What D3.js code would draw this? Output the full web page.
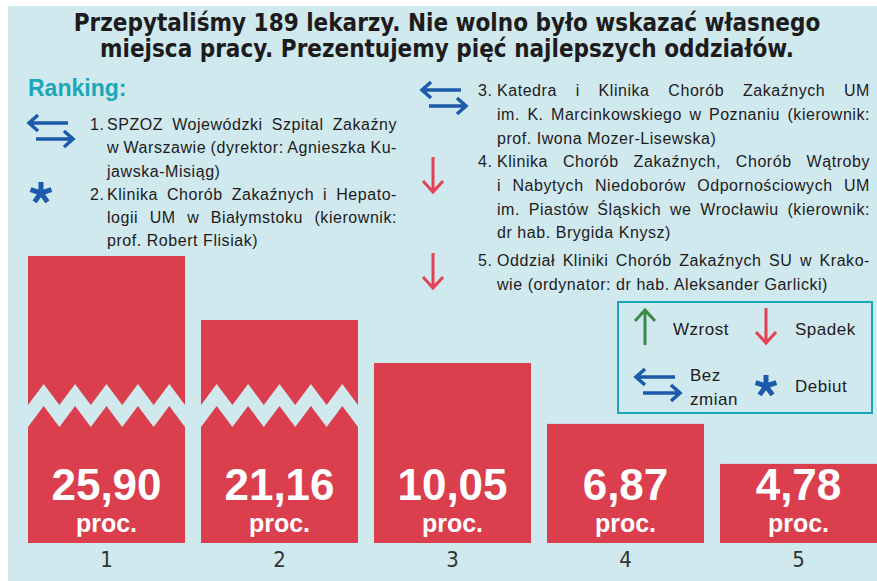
<!DOCTYPE html>
<html>
<head>
<meta charset="utf-8">
<script src="https://cdn.jsdelivr.net/npm/d3@7"></script>
<style>
    body { margin: 0; background: #ffffff; }
    svg { display: block; }
</style>
</head>
<body>
<div id="chart"></div>
<script>
/* chart data */
const ranks = ["1", "2", "3", "4", "5"];
const shares = [25.90, 21.16, 10.05, 6.87, 4.78];
const brokenBars = [true, true, false, false, false];
const trends = ["same", "new", "same", "down", "down"];
const unitLabel = "proc.";

const titleLines = [
    "Przepytaliśmy 189 lekarzy. Nie wolno było wskazać własnego",
    "miejsca pracy. Prezentujemy pięć najlepszych oddziałów."
];
const rankingTitle = "Ranking:";
const wardLines = [
    ["SPZOZ Wojewódzki Szpital Zakaźny", "w Warszawie (dyrektor: Agnieszka Ku-", "jawska-Misiąg)"],
    ["Klinika Chorób Zakaźnych i Hepato-", "logii UM w Białymstoku (kierownik:", "prof. Robert Flisiak)"],
    ["Katedra i Klinika Chorób Zakaźnych UM", "im. K. Marcinkowskiego w Poznaniu (kierownik:", "prof. Iwona Mozer-Lisewska)"],
    ["Klinika Chorób Zakaźnych, Chorób Wątroby", "i Nabytych Niedoborów Odpornościowych UM", "im. Piastów Śląskich we Wrocławiu (kierownik:", "dr hab. Brygida Knysz)"],
    ["Oddział Kliniki Chorób Zakaźnych SU w Krako-", "wie (ordynator: dr hab. Aleksander Garlicki)"]
];
const legendKeys = ["up", "down", "same", "new"];
const legendLabels = [["Wzrost"], ["Spadek"], ["Bez", "zmian"], ["Debiut"]];

/* colours */
const bgColor = "#cfe9ee";
const barColor = "#db3e4d";
const textColor = "#1e1b1c";
const tealColor = "#1aa7b8";
const blueColor = "#1d5aab";
const redColor = "#e2424f";
const greenColor = "#3b8a4b";

const narrowFont = "'DejaVu Sans Condensed', 'Liberation Sans Narrow', sans-serif";
const plainFont = "'Liberation Sans', Arial, sans-serif";

const W = 877, H = 581;
const baseY = 543;

var svg = d3.select("#chart")
    .append("svg")
    .attr("width", W)
    .attr("height", H);

/* background panel */
svg.append("rect")
    .attr("x", 8)
    .attr("y", 6)
    .attr("width", W - 8)
    .attr("height", H - 6)
    .style("fill", bgColor);

/* title */
svg.append("g")
    .selectAll("text")
    .data(titleLines)
    .enter().append("text")
    .attr("x", 447)
    .attr("y", function(d, i) { return 31 + i * 26; })
    .attr("text-anchor", "middle")
    .style("font-family", narrowFont)
    .style("font-weight", "bold")
    .style("font-size", "24px")
    .style("fill", textColor)
    .text(String);

svg.append("text")
    .attr("x", 28)
    .attr("y", 96)
    .style("font-family", plainFont)
    .style("font-weight", "bold")
    .style("font-size", "23px")
    .style("fill", tealColor)
    .text(rankingTitle);

/* icons: double arrow, star, down / up arrow */
function drawIcon(g, type, x, y) {
    var ic = g.append("g").attr("transform", "translate(" + x + "," + y + ")");
    if (type == "same") {
        ic.append("path")
            .attr("d", "M1,-8H40M10,-16L1,-8L10,0M8,8H45M36,0L45,8L36,16")
            .style("fill", "none")
            .style("stroke", blueColor)
            .style("stroke-width", 3.5);
    } else if (type == "new") {
        var arms = d3.range(5).map(function(k) {
            var a = (-90 + k * 72) * Math.PI / 180;
            return "M0,0L" + (11 * Math.cos(a)).toFixed(2) + "," + (11 * Math.sin(a)).toFixed(2);
        });
        ic.append("path")
            .attr("d", arms.join(""))
            .style("fill", "none")
            .style("stroke", blueColor)
            .style("stroke-width", 5)
            .style("stroke-linecap", "butt");
    } else if (type == "down") {
        ic.append("path")
            .attr("d", "M0,0V35M-10,24L0,35L10,24")
            .style("fill", "none")
            .style("stroke", redColor)
            .style("stroke-width", 3);
    } else if (type == "up") {
        ic.append("path")
            .attr("d", "M0,37V2M-10,13L0,2L10,13")
            .style("fill", "none")
            .style("stroke", greenColor)
            .style("stroke-width", 3);
    }
}

/* ranking list, justified lines */
var listFontSize = 16;
var listSpacing = "0.55px";
function drawItem(g, idx, numX, textX, rightX, y0, lineH) {
    g.append("text")
        .attr("x", numX)
        .attr("y", y0)
        .style("font-family", plainFont)
        .style("font-size", listFontSize + "px")
        .style("letter-spacing", listSpacing)
        .style("fill", textColor)
        .text(ranks[idx] + ".");
    var lines = wardLines[idx];
    lines.forEach(function(line, j) {
        var t = g.append("text")
            .attr("x", textX)
            .attr("y", y0 + j * lineH)
            .style("font-family", plainFont)
            .style("font-size", listFontSize + "px")
            .style("letter-spacing", listSpacing)
            .style("fill", textColor)
            .text(line);
        if (j < lines.length - 1) {
            var spaces = line.split(" ").length - 1;
            var free = (rightX - textX) - t.node().getComputedTextLength();
            if (spaces > 0) t.style("word-spacing", (free / spaces) + "px");
        }
    });
}

var listG = svg.append("g");
drawItem(listG, 0, 90, 107, 397, 130, 23.3);
drawItem(listG, 1, 90, 107, 397, 200, 23);
drawItem(listG, 2, 478, 497, 870, 96, 23.8);
drawItem(listG, 3, 478, 497, 870, 167, 23.8);
drawItem(listG, 4, 478, 497, 870, 266, 23.8);

drawIcon(listG, trends[0], 28, 131);
drawIcon(listG, trends[1], 41, 193);
drawIcon(listG, trends[2], 421, 98);
drawIcon(listG, trends[3], 433, 157);
drawIcon(listG, trends[4], 433, 253);

/* legend box */
var legend = svg.append("g");
legend.append("rect")
    .attr("x", 618)
    .attr("y", 302)
    .attr("width", 254)
    .attr("height", 111)
    .style("fill", "none")
    .style("stroke", tealColor)
    .style("stroke-width", 2);

var legendPos = [[645, 308, 673, 335], [766, 308, 795, 335], [635, 385, 690, 381], [766, 386, 795, 392]];
legendKeys.forEach(function(k, i) {
    var p = legendPos[i];
    drawIcon(legend, k, p[0], p[1]);
    legendLabels[i].forEach(function(lbl, j) {
        legend.append("text")
            .attr("x", p[2])
            .attr("y", p[3] + j * 24)
            .style("font-family", plainFont)
            .style("font-size", "17px")
            .style("letter-spacing", "0.5px")
            .style("fill", textColor)
            .text(lbl);
    });
});

/* scales */
var x = d3.scaleBand()
    .domain(ranks)
    .range([28, 877])
    .paddingInner(0.0925)
    .paddingOuter(0);

/* lower bars start from a truncated base, tall bars are drawn broken */
var y = d3.scaleLinear()
    .domain([0.65, 10.05])
    .range([baseY, 363]);
var yBroken = d3.scaleLinear()
    .domain([4.64, 25.9])
    .range([baseY, 256]);

var pl = d3.formatLocale({ decimal: ",", thousands: " ", grouping: [3], currency: ["", " zł"] });
var fmt = pl.format(".2f");

var bars = svg.append("g")
    .selectAll("g")
    .data(ranks)
    .enter().append("g");

bars.append("rect")
    .attr("x", function(d) { return x(d); })
    .attr("y", function(d, i) { return brokenBars[i] ? yBroken(shares[i]) : y(shares[i]); })
    .attr("width", x.bandwidth())
    .attr("height", function(d, i) { return baseY - (brokenBars[i] ? yBroken(shares[i]) : y(shares[i])); })
    .style("fill", barColor);

/* zigzag break on the tall bars */
var zigTop = 384, zigAmp = 21, zigGap = 22;
bars.filter(function(d, i) { return brokenBars[i]; })
    .append("path")
    .attr("d", function(d) {
        var x0 = x(d), w = x.bandwidth(), n = 5, p = w / n;
        var up = [], lo = [];
        for (var k = 0; k <= 2 * n; k++) {
            var yy = (k % 2 == 0) ? zigTop + zigAmp : zigTop;
            up.push([x0 + k * p / 2, yy]);
            lo.push([x0 + k * p / 2, yy + zigGap]);
        }
        return d3.line()(up.concat(lo.reverse())) + "Z";
    })
    .style("fill", bgColor);

bars.append("text")
    .attr("x", function(d) { return x(d) + x.bandwidth() / 2; })
    .attr("y", baseY - 43)
    .attr("text-anchor", "middle")
    .style("font-family", plainFont)
    .style("font-weight", "bold")
    .style("font-size", "44px")
    .style("fill", "#ffffff")
    .text(function(d, i) { return fmt(shares[i]); });

bars.append("text")
    .attr("x", function(d) { return x(d) + x.bandwidth() / 2; })
    .attr("y", baseY - 11)
    .attr("text-anchor", "middle")
    .style("font-family", plainFont)
    .style("font-weight", "bold")
    .style("font-size", "25px")
    .style("fill", "#ffffff")
    .text(unitLabel);

/* rank labels under the bars */
var axis = svg.append("g")
    .attr("transform", "translate(0," + baseY + ")")
    .call(d3.axisBottom(x).tickSize(0).tickPadding(8));
axis.select(".domain").remove();
axis.selectAll(".tick text")
    .style("font-family", narrowFont)
    .style("font-size", "22px")
    .style("fill", "#333333");
</script>
</body>
</html>
